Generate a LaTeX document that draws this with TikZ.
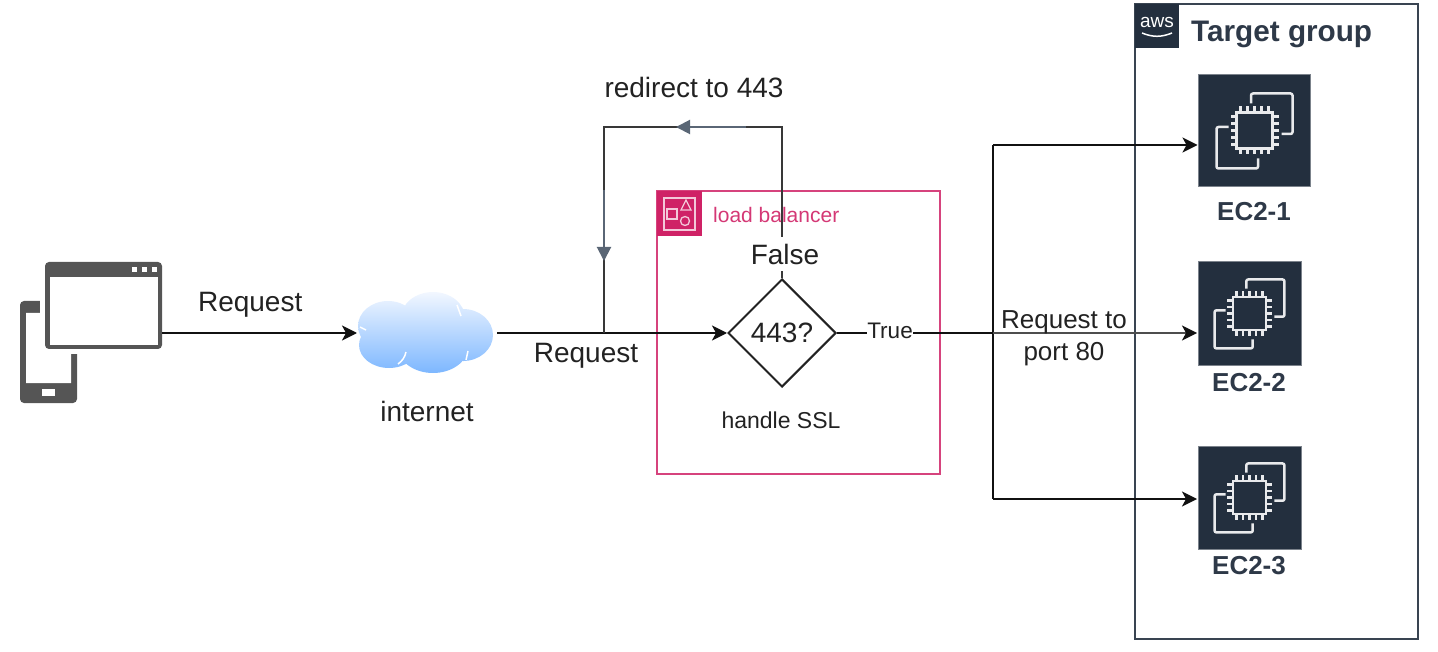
\documentclass[tikz,border=0pt]{standalone}
\usepackage{fontspec}
\setmainfont{Liberation Sans}
\usetikzlibrary{arrows.meta,shapes.geometric}

\definecolor{inkdark}{HTML}{222222}
\definecolor{linedark}{HTML}{111111}
\definecolor{slateline}{HTML}{5A6675}
\definecolor{awsnavy}{HTML}{232F3E}
\definecolor{lbpink}{HTML}{CF2266}
\definecolor{devgrey}{HTML}{555555}
\definecolor{cloudtop}{HTML}{F2F7FF}
\definecolor{cloudbot}{HTML}{7DB7FF}

\newcommand\fs[1]{\fontsize{#1}{#1}\selectfont}

\tikzset{
  flow/.style={draw=linedark, line width=2pt},
  flowtip/.style={flow, -{Stealth[length=15pt,width=15pt,inset=4pt,color=linedark]}},
  redirtip/.style={draw=slateline, line width=2pt, -{Stealth[length=14pt,width=14pt,inset=0pt]}},
  txt/.style={text=inkdark, inner sep=0pt, font=\fs{28}},
  icontxt/.style={text=awsnavy!95!white, inner sep=0pt, font=\fs{26}\bfseries},
  holder/.style={inner sep=0pt, outer sep=0pt},
  instbox/.style={holder, fill=awsnavy, draw=awsnavy!60!white, line width=1pt},
  pics/chip/.style={code={
    \draw[white!90!awsnavy, line width=2.5pt, rounded corners=2pt]
      (-3.5,-27) -- (-3.5,-37) -- (38,-37) -- (38,3.5) -- (27,3.5);
    \draw[white!90!awsnavy, line width=2.5pt, rounded corners=2pt]
      (-26,-3.5) -- (-38,-3.5) -- (-38,38) -- (3.5,38) -- (3.5,28);
    \draw[white!90!awsnavy, line width=2.8pt] (-18,-18) rectangle (18,18);
    \foreach \p in {-14,-7,0,7,14} {
      \draw[white!90!awsnavy, line width=2.4pt] (\p,-18) -- (\p,-24);
      \draw[white!90!awsnavy, line width=2.4pt] (\p,18) -- (\p,24);
      \draw[white!90!awsnavy, line width=2.4pt] (-18,\p) -- (-24,\p);
      \draw[white!90!awsnavy, line width=2.4pt] (18,\p) -- (24,\p);
    }
  }}
}

\begin{document}
\begin{tikzpicture}[x=1pt, y=-1pt]

  \useasboundingbox (0,0) rectangle (1438,652);

  % group boxes
  \node[holder, draw=lbpink!85!white, line width=2pt, minimum width=283pt, minimum height=283pt]
    (lbbox) at (798.5,332.5) {};
  \node[holder, draw=awsnavy!90!white, line width=2pt, minimum width=283pt, minimum height=635pt]
    (tgbox) at (1276.5,321.5) {};

  % device
  \node[holder, minimum width=142pt, minimum height=141pt] (device) at (91,333) {};
  \fill[devgrey, rounded corners=4pt] (20,301) rectangle (77,403);
  \fill[white] (40,300) -- (78,300) -- (78,354) -- (71,354) -- (71,383) -- (26,383) -- (26,313) -- (40,313) -- cycle;
  \fill[white] (42,389) rectangle (55,396);
  \fill[devgrey, rounded corners=4pt] (45,262) rectangle (162,349);
  \fill[white] (49.5,277) rectangle (157.5,345);
  \foreach \q in {132,142,152} {
    \fill[white] (\q,267) rectangle +(5,5);
  }

  % cloud
  \node[holder, minimum width=135pt, minimum height=81pt] (cloud) at (425.5,333) {};
  \shade[top color=cloudtop, bottom color=cloudbot]
    (433,318) ellipse (32 and 26) (388,326) ellipse (30 and 25) (389,345) ellipse (30 and 23)
    (463,335) ellipse (30 and 26) (433,347) ellipse (35 and 26);
  \draw[white, line width=1.5pt] (398,364) to[bend right=20] (406,352);
  \draw[white, line width=1.5pt] (466,360) -- (468,351);
  \draw[white, line width=1.5pt] (366,330) -- (360,327);
  \draw[white, line width=1.5pt] (461,316) -- (457,305);

  \node[txt] (netlabel) at (427,411) {internet};

  % load balancer
  \node[holder, fill=lbpink, minimum size=45pt] (lbtag) at (679.5,213.5) {};
  \draw[white!75!lbpink, line width=1.3pt] (664,198) rectangle (695,230);
  \draw[white!75!lbpink, line width=1.3pt] (667,209) rectangle (677,219);
  \draw[white!75!lbpink, line width=1.3pt] (686,200) -- (691,210) -- (681,210) -- cycle;
  \draw[white!75!lbpink, line width=1.3pt] (685,221) circle (4.5);
  \node[txt, anchor=west, text=lbpink!90!white, font=\fs{21}] (lbname) at (713,215) {load balancer};

  \node[diamond, draw=inkdark, line width=2pt, aspect=1, inner sep=0pt, minimum size=108pt,
    txt] (check) at (782,333) {443?};
  \node[txt, font=\fs{23}] (ssl) at (781,420) {handle SSL};

  % target group
  \node[holder, fill=awsnavy, minimum size=44pt] (awstag) at (1157,26) {};
  \node[holder, text=white, font=\fs{19}] (awsname) at (1157,22) {aws};
  \draw[white, line width=1.5pt] (1142,33) to[bend right=22] (1172,33);
  \node[txt, anchor=base west, text=awsnavy!95!white, font=\fs{29.7}\bfseries] (tgname) at (1191,42) {Target group};

  \node[instbox, minimum width=112pt, minimum height=112pt] (econe) at (1254.5,130.5) {};
  \node[instbox, minimum width=103pt, minimum height=103pt] (ectwo) at (1249.5,313.5) {};
  \node[instbox, minimum width=103pt, minimum height=103pt] (ecthree) at (1249.5,497.5) {};
  \pic at (econe) {chip};
  \pic[scale=.92] at (ectwo) {chip};
  \pic[scale=.92] at (ecthree) {chip};
  \node[icontxt] (onename) at (1254,212) {EC2-1};
  \node[icontxt] (twoname) at (1249,383) {EC2-2};
  \node[icontxt] (threename) at (1249,566) {EC2-3};

  % connectors
  \coordinate (join) at (604,333);
  \coordinate (turnl) at (604,127);
  \coordinate (turnr) at (782,127);
  \coordinate (split) at (993,333);
  \coordinate (splita) at (993,145);
  \coordinate (splitc) at (993,499);

  \draw[flowtip, shorten >=1pt] (device.east) -- node[txt, pos=.45, yshift=28pt]{Request} (cloud.west);
  \draw[flowtip, shorten <=4pt] (cloud.east) -- (check.west);
  \node[txt] (reqlabel) at (586,356) {Request};

  \draw[flow, draw=inkdark!90!white] (check.north) -- (turnr) -- (turnl) -- (join);
  \node[txt, fill=white, minimum height=34pt, minimum width=70pt] (falselabel) at (785,254) {False};
  \coordinate (topfrom) at (746,127);
  \coordinate (topto) at (676,127);
  \coordinate (leftfrom) at (604,190);
  \coordinate (leftto) at (604,261);
  \draw[redirtip] (topfrom) -- (topto);
  \draw[redirtip] (leftfrom) -- (leftto);
  \node[txt] (redirlabel) at (694,87) {redirect to 443};

  \draw[flow] (check.east) -- node[txt, fill=white, font=\fs{22.5}, pos=.34, yshift=2.5pt]{True} (split);
  \draw[flow] (splita) -- (splitc);
  \draw[flowtip, shorten >=1pt] (splita) -- (splita -| econe.west);
  \draw[flowtip, draw=inkdark!80!white, shorten >=1pt] (split) -- (split -| ectwo.west);
  \draw[flowtip, shorten >=1pt] (splitc) -- (splitc -| ecthree.west);
  \node[txt, font=\fs{26}, align=center] (portlabel) at (1064,338) {Request to\\[6pt]port 80};

\end{tikzpicture}
\end{document}
